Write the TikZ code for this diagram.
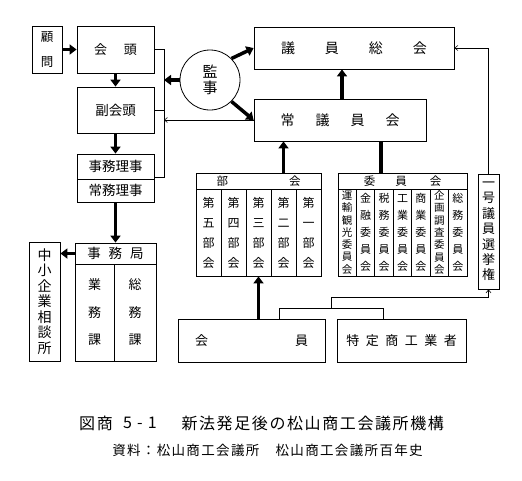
\documentclass[tikz,border=0pt]{standalone}
\usepackage{fontspec}
\setmainfont{Noto Sans CJK JP}
\newfontfamily\capfont[LetterSpace=10]{Noto Sans CJK JP}
\usetikzlibrary{arrows.meta}
\newcommand\fs[2]{\fontsize{#1}{#2}\selectfont}
\begin{document}
\begin{tikzpicture}[x=1pt,y=-1pt,
  bx/.style 2 args={draw,line width=0.8pt,inner sep=0pt,minimum width=#1,minimum height=#2,align=center},
  tarrow/.style={line width=3.5pt,-{Triangle[length=7pt,width=10pt]}},
  tline/.style={line width=3.5pt},
  thinarrow/.style={line width=0.6pt,-{Straight Barb[length=3pt,width=5pt]}},
  thinline/.style={line width=0.6pt}]
\useasboundingbox[fill=white] (0,0) rectangle (522,480);

% left column
\node[bx={30pt}{47pt},font=\fs{12.5}{25}] (komon) at (47,49.5) {顧\\問};
\node[bx={77pt}{47pt},font=\fs{13}{15}] (kaito) at (115.5,49.5) {会\hspace{17pt}頭};
\node[bx={77pt}{46pt},font=\fs{13.5}{15}] (fuku) at (115.5,110) {副会頭};
\node[bx={77pt}{25pt},font=\fs{13.5}{15}] (jimuriji) at (115.5,166.5) {事務理事};
\node[bx={77pt}{23pt},font=\fs{13.5}{15}] (jomu) at (115.5,190.5) {常務理事};

% auditor
\node[circle,draw,line width=0.8pt,minimum size=60pt,inner sep=0pt,align=center,font=\fs{15}{16}] (kanji) at (210,80) {監\\事};

% assemblies
\node[bx={200pt}{42pt},font=\fs{14}{16}] (giin) at (354,48) {議\hspace{30pt}員\hspace{30pt}総\hspace{30pt}会};
\node[bx={172pt}{42pt},font=\fs{14}{16}] (jogi) at (340,120) {常\hspace{21pt}議\hspace{21pt}員\hspace{21pt}会};

% bukai
\node[bx={125pt}{16pt},font=\fs{11.5}{13}] (bh) at (258.5,181) {部\hspace{61pt}会};
\node[bx={25pt}{87pt},font=\fs{12}{20}] (b1) at (208.5,232.5) {第\\五\\部\\会};
\node[bx={25pt}{87pt},font=\fs{12}{20}] (b2) at (233.5,232.5) {第\\四\\部\\会};
\node[bx={25pt}{87pt},font=\fs{12}{20}] (b3) at (258.5,232.5) {第\\三\\部\\会};
\node[bx={25pt}{87pt},font=\fs{12}{20}] (b4) at (283.5,232.5) {第\\二\\部\\会};
\node[bx={25pt}{87pt},font=\fs{12}{20}] (b5) at (308.5,232.5) {第\\一\\部\\会};

% iinkai
\node[bx={129pt}{16pt},font=\fs{11.5}{13}] (ih) at (402.5,181) {委\hspace{20pt}員\hspace{23pt}会};
\node[bx={18.43pt}{87pt},font=\fs{10.5}{12.3}] (i1) at (347.21,232.5) {運\\輸\\観\\光\\委\\員\\会};
\node[bx={18.43pt}{87pt},font=\fs{11}{17}] (i2) at (365.64,232.5) {金\\融\\委\\員\\会};
\node[bx={18.43pt}{87pt},font=\fs{11}{17}] (i3) at (384.07,232.5) {税\\務\\委\\員\\会};
\node[bx={18.43pt}{87pt},font=\fs{11}{17}] (i4) at (402.5,232.5) {工\\業\\委\\員\\会};
\node[bx={18.43pt}{87pt},font=\fs{11}{17}] (i5) at (420.93,232.5) {商\\業\\委\\員\\会};
\node[bx={18.43pt}{87pt},font=\fs{10.5}{12.3}] (i6) at (439.36,232.5) {企\\画\\調\\査\\委\\員\\会};
\node[bx={18.43pt}{87pt},font=\fs{11}{17}] (i7) at (457.79,232.5) {総\\務\\委\\員\\会};

% election right
\node[bx={21pt}{115pt},font=\fs{13}{15.4}] (ichigo) at (488.5,231.5) {一\\号\\議\\員\\選\\挙\\権};

% members
\node[bx={147pt}{43pt},font=\fs{13}{15}] (kaiin) at (251.5,340.5) {会\hspace{87pt}員};
\node[bx={129pt}{43pt},font=\fs{13}{15}] (tokutei) at (401.5,340.5) {特\hspace{6.5pt}定\hspace{6.5pt}商\hspace{6.5pt}工\hspace{6.5pt}業\hspace{6.5pt}者};

% secretariat
\node[bx={81pt}{21pt},font=\fs{13.5}{15}] (jkh) at (115.5,253.5) {事\hspace{8pt}務\hspace{8pt}局};
\node[bx={39pt}{97pt},font=\fs{13}{27.5}] (gyomu) at (94.5,312.5) {業\\務\\課};
\node[bx={42pt}{97pt},font=\fs{13}{27.5}] (somu) at (135,312.5) {総\\務\\課};
\node[bx={31pt}{119pt},font=\fs{14}{15.5}] (chusho) at (44.5,301.5) {中\\小\\企\\業\\相\\談\\所};

% thick arrows
\draw[tarrow] (komon.east) -- (kaito.west);
\draw[tarrow] (kaito.south) -- (fuku.north);
\draw[tarrow] (fuku.south) -- (jimuriji.north);
\draw[tarrow] (jomu.south) -- (jkh.north);
\draw[tarrow] (jkh.west) -- (chusho.east |- jkh.west);
\draw[tarrow] (kanji.45) -- (giin.west);
\draw[tarrow] (kanji.-45) -- (jogi.west);
\draw[tarrow] (jogi.north) ++(2,0) coordinate (jn) (jogi.north -| jn) -- (giin.south -| jn);
\draw[tarrow] (bh.north -| b4) -- (jogi.south -| b4);
\draw[tline] ([xshift=-3pt]ih.north -| i3) -- ([xshift=-3pt]jogi.south -| i3);
\draw[tarrow] (kaiin.north -| b3) -- (b3.south);

% bracket on the left
\coordinate (bt) at (164,49.5);
\coordinate (bb) at (164,177);
\draw[thinline] (kaito.east) -- (bt) -- (bb) -- (bb -| jimuriji.east);
\draw[thinline] (fuku.east) -- (fuku.east -| bt);
\draw[tarrow] (kanji.west) -- (kanji.west -| bt);
\draw[thinarrow] (jogi.west) -- (jogi.west -| bt);

% election lines
\draw[thinarrow] (ichigo.north) |- (giin.east);
\coordinate (m1) at (279,308);
\coordinate (m2) at (383,308);
\coordinate (m3) at (331,308);
\coordinate (m4) at (331,297);
\draw[thinline] (kaiin.north -| m1) -- (m1) -- (m2) -- (tokutei.north -| m2);
\draw[thinarrow] (m3) -- (m4) -| (ichigo.south);

% caption
\node[font=\capfont\fs{16}{18}] (c1a) at (96,423) {図商};
\node[font=\capfont\fs{16}{18}] (c1b) at (140,423) {5 - 1};
\node[anchor=west,font=\capfont\fs{16}{18}] (c1c) at (178,423) {新法発足後の松山商工会議所機構};
\node[font=\capfont\fs{13.5}{16}] (c2) at (267.5,450) {資料：松山商工会議所　松山商工会議所百年史};
\end{tikzpicture}
\end{document}
